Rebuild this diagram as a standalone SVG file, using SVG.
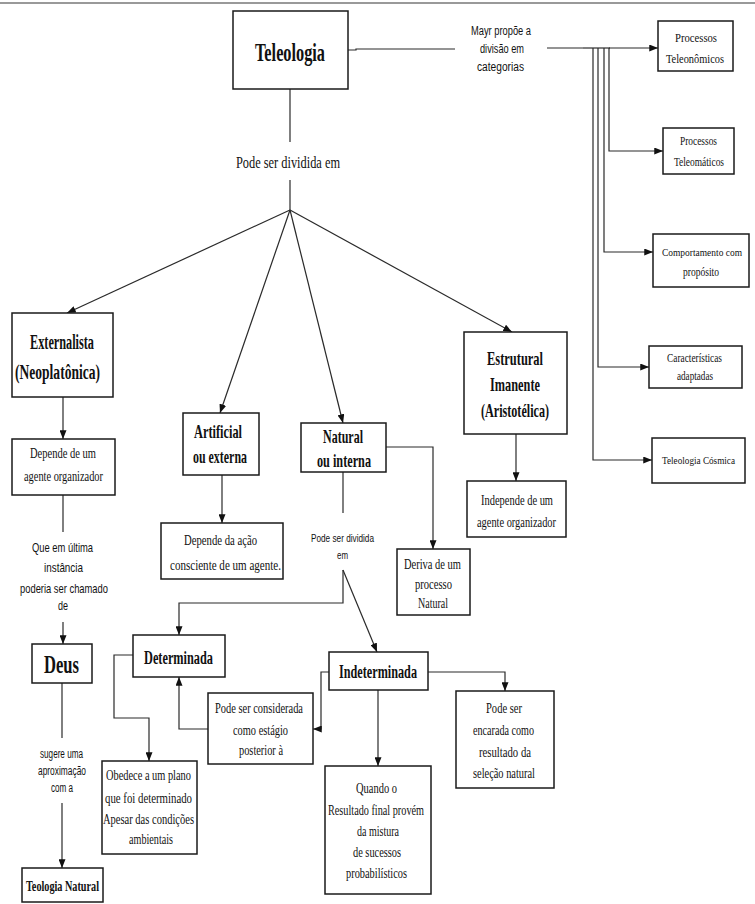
<svg xmlns="http://www.w3.org/2000/svg" width="755" height="904" viewBox="0 0 755 904">
<style>
.box{fill:#fff;stroke:#1a1a1a;stroke-width:1.5}
.c{fill:none;stroke:#2a2a2a;stroke-width:1.2}
.t{font-family:"Liberation Serif","Times New Roman",serif;fill:#111}
.tb{font-family:"Liberation Serif","Times New Roman",serif;font-weight:bold;fill:#111}
.s{font-family:"Liberation Sans",Arial,sans-serif;fill:#111}
</style>
<defs>
<marker id="ar" viewBox="0 0 10 8" refX="10" refY="4" markerWidth="9" markerHeight="7" markerUnits="userSpaceOnUse" orient="auto">
<path d="M0,0 L10,4 L0,8 z" fill="#111"/>
</marker>
</defs>
<rect width="755" height="904" fill="#fff"/>
<line x1="0" y1="3" x2="755" y2="3" stroke="#999" stroke-width="2"/>

<g id="connectors">
<path class="c" d="M290,89 V142"/>
<path class="c" d="M290,180 V210"/>
<path class="c" d="M290,210 L67,313" marker-end="url(#ar)"/>
<path class="c" d="M290,210 L220,413" marker-end="url(#ar)"/>
<path class="c" d="M290,210 L343,423" marker-end="url(#ar)"/>
<path class="c" d="M290,210 L512,332" marker-end="url(#ar)"/>
<path class="c" d="M348,50 H356 V49 H455"/>
<path class="c" d="M547,48 H583"/>
<path class="c" d="M583,48 H610" stroke-width="3"/>
<path class="c" d="M609,48 H658" marker-end="url(#ar)"/>
<path class="c" d="M609,48 V151 H663" marker-end="url(#ar)"/>
<path class="c" d="M604,48 V252 H653" marker-end="url(#ar)"/>
<path class="c" d="M598,48 V367 H649" marker-end="url(#ar)"/>
<path class="c" d="M593,48 V460 H652" marker-end="url(#ar)"/>
<path class="c" d="M63,397 V439" marker-end="url(#ar)"/>
<path class="c" d="M516,434 V481" marker-end="url(#ar)"/>
<path class="c" d="M222,475 V523" marker-end="url(#ar)"/>
<path class="c" d="M386,447 H433 V549" marker-end="url(#ar)"/>
<path class="c" d="M343,472 V513"/>
<path class="c" d="M343,570 V603 H179 V635" marker-end="url(#ar)"/>
<path class="c" d="M343,570 L377,652" marker-end="url(#ar)"/>
<path class="c" d="M63,495 V532"/>
<path class="c" d="M63,622 V644" marker-end="url(#ar)"/>
<path class="c" d="M62,683 V738"/>
<path class="c" d="M62,803 V868" marker-end="url(#ar)"/>
<path class="c" d="M428,672 H505 V691" marker-end="url(#ar)"/>
<path class="c" d="M378,690 V766" marker-end="url(#ar)"/>
<path class="c" d="M329,672 H321 V729 H313" marker-end="url(#ar)"/>
<path class="c" d="M208,729 H179 V677" marker-end="url(#ar)"/>
<path class="c" d="M133,655 H114 V718 H149 V761" marker-end="url(#ar)"/>
</g>

<g id="labels">
<text class="t" x="236" y="168" font-size="16" textLength="104" lengthAdjust="spacingAndGlyphs">Pode ser dividida em</text>
<text class="s" x="471" y="35" font-size="12" textLength="60" lengthAdjust="spacingAndGlyphs">Mayr propõe a</text>
<text class="s" x="480" y="53" font-size="12" textLength="44" lengthAdjust="spacingAndGlyphs">divisão em</text>
<text class="s" x="477" y="71" font-size="12" textLength="47" lengthAdjust="spacingAndGlyphs">categorias</text>
<text class="s" x="311" y="542" font-size="11" textLength="63" lengthAdjust="spacingAndGlyphs">Pode ser dividida</text>
<text class="s" x="337" y="559" font-size="11" textLength="11" lengthAdjust="spacingAndGlyphs">em</text>
<text class="s" x="32" y="552" font-size="13" textLength="61" lengthAdjust="spacingAndGlyphs">Que em última</text>
<text class="s" x="44" y="572" font-size="13" textLength="39" lengthAdjust="spacingAndGlyphs">instância</text>
<text class="s" x="20" y="593" font-size="13" textLength="88" lengthAdjust="spacingAndGlyphs">poderia ser chamado</text>
<text class="s" x="58" y="610" font-size="13" textLength="10" lengthAdjust="spacingAndGlyphs">de</text>
<text class="s" x="40" y="758" font-size="12" textLength="43" lengthAdjust="spacingAndGlyphs">sugere uma</text>
<text class="s" x="38" y="775" font-size="12" textLength="48" lengthAdjust="spacingAndGlyphs">aproximação</text>
<text class="s" x="51" y="792" font-size="12" textLength="22" lengthAdjust="spacingAndGlyphs">com a</text>
</g>

<g id="teleologia">
<rect class="box" x="233" y="11" width="115" height="78"/>
<text class="tb" x="255" y="61" font-size="26" textLength="70" lengthAdjust="spacingAndGlyphs">Teleologia</text>
</g>
<g id="proc-teleonomicos">
<rect class="box" x="658" y="21" width="75" height="50"/>
<text class="t" x="675" y="42" font-size="13" textLength="42" lengthAdjust="spacingAndGlyphs">Processos</text>
<text class="t" x="666" y="63" font-size="13" textLength="58" lengthAdjust="spacingAndGlyphs">Teleonômicos</text>
</g>
<g id="proc-teleomaticos">
<rect class="box" x="663" y="128" width="71" height="46"/>
<text class="t" x="680" y="145" font-size="13" textLength="37" lengthAdjust="spacingAndGlyphs">Processos</text>
<text class="t" x="674" y="166" font-size="13" textLength="50" lengthAdjust="spacingAndGlyphs">Teleomáticos</text>
</g>
<g id="comportamento">
<rect class="box" x="653" y="234" width="96" height="53"/>
<text class="t" x="662" y="256" font-size="10.5" textLength="80" lengthAdjust="spacingAndGlyphs">Comportamento com</text>
<text class="t" x="683" y="276" font-size="13" textLength="36" lengthAdjust="spacingAndGlyphs">propósito</text>
</g>
<g id="caracteristicas">
<rect class="box" x="649" y="346" width="93" height="42"/>
<text class="t" x="667" y="362" font-size="13" textLength="55" lengthAdjust="spacingAndGlyphs">Características</text>
<text class="t" x="677" y="380" font-size="13" textLength="36" lengthAdjust="spacingAndGlyphs">adaptadas</text>
</g>
<g id="teleologia-cosmica">
<rect class="box" x="652" y="438" width="93" height="45"/>
<text class="t" x="662" y="464" font-size="11" textLength="73" lengthAdjust="spacingAndGlyphs">Teleologia Cósmica</text>
</g>
<g id="externalista">
<rect class="box" x="12" y="313" width="101" height="84"/>
<text class="tb" x="30" y="349" font-size="20" textLength="64" lengthAdjust="spacingAndGlyphs">Externalista</text>
<text class="tb" x="15" y="379" font-size="20" textLength="85" lengthAdjust="spacingAndGlyphs">(Neoplatônica)</text>
</g>
<g id="depende-agente">
<rect class="box" x="12" y="439" width="103" height="56"/>
<text class="t" x="30" y="458" font-size="14" textLength="66" lengthAdjust="spacingAndGlyphs">Depende de um</text>
<text class="t" x="24" y="481" font-size="14" textLength="79" lengthAdjust="spacingAndGlyphs">agente organizador</text>
</g>
<g id="deus">
<rect class="box" x="32" y="644" width="60" height="39"/>
<text class="tb" x="44" y="673" font-size="26" textLength="35" lengthAdjust="spacingAndGlyphs">Deus</text>
</g>
<g id="teologia-natural">
<rect class="box" x="22" y="868" width="81" height="34"/>
<text class="tb" x="26" y="891" font-size="14" textLength="73" lengthAdjust="spacingAndGlyphs">Teologia Natural</text>
</g>
<g id="artificial">
<rect class="box" x="183" y="413" width="76" height="62"/>
<text class="tb" x="194" y="438" font-size="19" textLength="48" lengthAdjust="spacingAndGlyphs">Artificial</text>
<text class="tb" x="193" y="463" font-size="19" textLength="54" lengthAdjust="spacingAndGlyphs">ou externa</text>
</g>
<g id="depende-acao">
<rect class="box" x="161" y="523" width="122" height="56"/>
<text class="t" x="184" y="545" font-size="14" textLength="73" lengthAdjust="spacingAndGlyphs">Depende da ação</text>
<text class="t" x="170" y="570" font-size="14" textLength="111" lengthAdjust="spacingAndGlyphs">consciente de um agente.</text>
</g>
<g id="natural">
<rect class="box" x="301" y="423" width="85" height="49"/>
<text class="tb" x="323" y="443" font-size="19" textLength="40" lengthAdjust="spacingAndGlyphs">Natural</text>
<text class="tb" x="317" y="467" font-size="19" textLength="54" lengthAdjust="spacingAndGlyphs">ou interna</text>
</g>
<g id="estrutural">
<rect class="box" x="464" y="332" width="103" height="102"/>
<text class="tb" x="487" y="365" font-size="19" textLength="56" lengthAdjust="spacingAndGlyphs">Estrutural</text>
<text class="tb" x="490" y="391" font-size="19" textLength="50" lengthAdjust="spacingAndGlyphs">Imanente</text>
<text class="tb" x="481" y="417" font-size="19" textLength="68" lengthAdjust="spacingAndGlyphs">(Aristotélica)</text>
</g>
<g id="independe">
<rect class="box" x="467" y="481" width="99" height="56"/>
<text class="t" x="481" y="505" font-size="14" textLength="72" lengthAdjust="spacingAndGlyphs">Independe de um</text>
<text class="t" x="477" y="527" font-size="14" textLength="79" lengthAdjust="spacingAndGlyphs">agente organizador</text>
</g>
<g id="deriva">
<rect class="box" x="397" y="549" width="73" height="66"/>
<text class="t" x="404" y="569" font-size="14" textLength="57" lengthAdjust="spacingAndGlyphs">Deriva de um</text>
<text class="t" x="415" y="589" font-size="14" textLength="37" lengthAdjust="spacingAndGlyphs">processo</text>
<text class="t" x="418" y="608" font-size="14" textLength="30" lengthAdjust="spacingAndGlyphs">Natural</text>
</g>
<g id="determinada">
<rect class="box" x="133" y="635" width="92" height="42"/>
<text class="tb" x="144" y="664" font-size="18" textLength="69" lengthAdjust="spacingAndGlyphs">Determinada</text>
</g>
<g id="indeterminada">
<rect class="box" x="329" y="652" width="99" height="38"/>
<text class="tb" x="339" y="678" font-size="18" textLength="78" lengthAdjust="spacingAndGlyphs">Indeterminada</text>
</g>
<g id="considerada">
<rect class="box" x="208" y="693" width="105" height="71"/>
<text class="t" x="215" y="713" font-size="14" textLength="88" lengthAdjust="spacingAndGlyphs">Pode ser considerada</text>
<text class="t" x="233" y="735" font-size="14" textLength="55" lengthAdjust="spacingAndGlyphs">como estágio</text>
<text class="t" x="239" y="755" font-size="14" textLength="44" lengthAdjust="spacingAndGlyphs">posterior à</text>
</g>
<g id="encarada">
<rect class="box" x="456" y="691" width="98" height="97"/>
<text class="t" x="486" y="713" font-size="14" textLength="36" lengthAdjust="spacingAndGlyphs">Pode ser</text>
<text class="t" x="473" y="735" font-size="14" textLength="61" lengthAdjust="spacingAndGlyphs">encarada como</text>
<text class="t" x="479" y="757" font-size="14" textLength="52" lengthAdjust="spacingAndGlyphs">resultado da</text>
<text class="t" x="473" y="778" font-size="14" textLength="62" lengthAdjust="spacingAndGlyphs">seleção natural</text>
</g>
<g id="quando">
<rect class="box" x="325" y="766" width="106" height="128"/>
<text class="t" x="356" y="793" font-size="14" textLength="41" lengthAdjust="spacingAndGlyphs">Quando o</text>
<text class="t" x="328" y="815" font-size="14" textLength="96" lengthAdjust="spacingAndGlyphs">Resultado final provém</text>
<text class="t" x="357" y="836" font-size="14" textLength="42" lengthAdjust="spacingAndGlyphs">da mistura</text>
<text class="t" x="353" y="857" font-size="14" textLength="48" lengthAdjust="spacingAndGlyphs">de sucessos</text>
<text class="t" x="346" y="878" font-size="14" textLength="61" lengthAdjust="spacingAndGlyphs">probabilísticos</text>
</g>
<g id="obedece">
<rect class="box" x="102" y="761" width="95" height="93"/>
<text class="t" x="106" y="780" font-size="14" textLength="85" lengthAdjust="spacingAndGlyphs">Obedece a um plano</text>
<text class="t" x="105" y="803" font-size="14" textLength="87" lengthAdjust="spacingAndGlyphs">que foi determinado</text>
<text class="t" x="103" y="824" font-size="14" textLength="91" lengthAdjust="spacingAndGlyphs">Apesar das condições</text>
<text class="t" x="129" y="844" font-size="14" textLength="44" lengthAdjust="spacingAndGlyphs">ambientais</text>
</g>
</svg>
